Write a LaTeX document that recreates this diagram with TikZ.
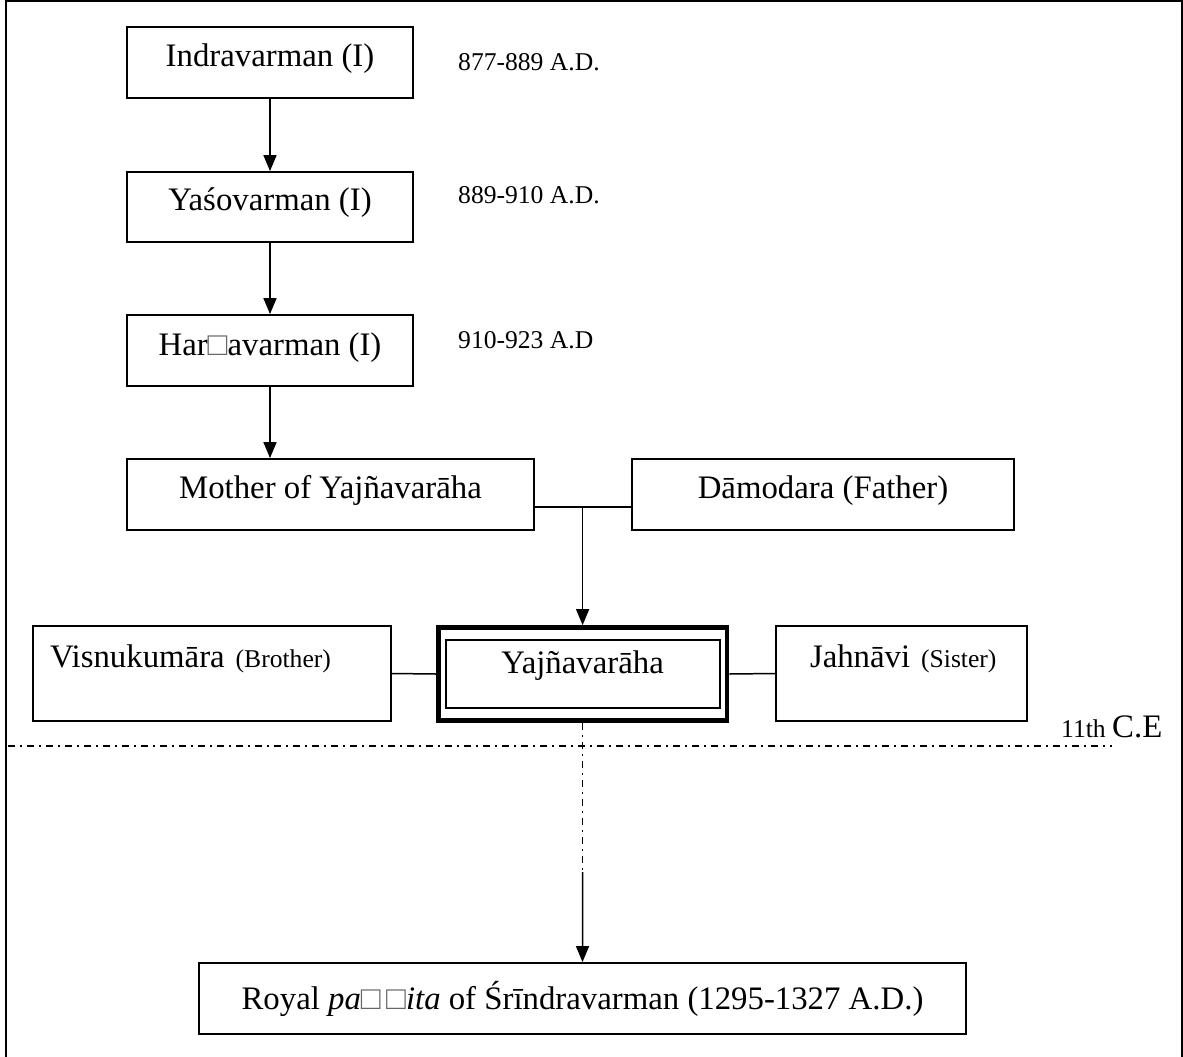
\documentclass[tikz,border=0pt]{standalone}
\usepackage{fontspec}
\setmainfont{Liberation Serif}
\usetikzlibrary{arrows.meta}
\newcommand\szA{\fontsize{32.8}{38}\selectfont}
\newcommand\szB{\fontsize{25.6}{30}\selectfont}
\newcommand\missingglyph{{\color{black!60}□}}
\begin{document}
\begin{tikzpicture}[x=1pt,y=-1pt,
  box/.style={draw, line width=1.8pt, inner xsep=0pt, inner ysep=0pt, font=\szA, text height=22pt},
  arr/.style={line width=1.5pt, -{Triangle[length=16pt,width=13pt]}},
  link/.style={line width=1.5pt},
  dashdot/.style={line width=1.4pt, dash pattern=on 7pt off 5pt on 2pt off 5pt},
  date/.style={font=\szB, anchor=base west, inner sep=0pt}]
\useasboundingbox (0,0) rectangle (1183,1057);
% frame
\draw[line width=2pt] (5.5,1057) -- (5.5,1.5) -- (1181.5,1.5) -- (1181.5,1057);
% kings
\node[box, minimum width=286pt, minimum height=71pt, text depth=13.6pt] (ind) at (270,62.5) {Indravarman (I)};
\node[box, minimum width=286pt, minimum height=70pt, text depth=16pt] (yas) at (270,207) {Yaśovarman (I)};
\node[box, minimum width=286pt, minimum height=71pt, text depth=13pt] (har) at (270,350.5) {Har\missingglyph avarman (I)};
\node[date] (d1) at (458,70.7) {877-889 A.D.};
\node[date] (d2) at (458,203) {889-910 A.D.};
\node[date] (d3) at (458,348) {910-923 A.D};
% parents
\node[box, minimum width=407pt, minimum height=71pt, text depth=14pt] (mot) at (330.5,494.5) {Mother of Yajñavarāha};
\node[box, minimum width=382pt, minimum height=71pt, text depth=14pt] (fat) at (823,494.5) {Dāmodara (Father)};
% Yajnavaraha
\node[box, line width=4.7pt, minimum width=288.7pt, minimum height=93pt, text depth=24pt] (yaj) at (582.6,674) {Yajñavarāha};
\draw[line width=1.8pt] ([shift={(-136.6,-34)}]yaj.center) rectangle ([shift={(137.4,34)}]yaj.center);
% siblings
\node[box, minimum width=358pt, minimum height=95pt, text depth=35pt, text width=324pt, align=left] (vis) at (212,673.5) {\mbox{Visnukumāra {\szB(Brother)}}};
\node[box, minimum width=251pt, minimum height=95pt, text depth=35pt, text width=183pt, align=left] (jah) at (901.5,673.5) {\mbox{Jahnāvi {\szB(Sister)}}};
% royal
\node[box, minimum width=767pt, minimum height=71pt, text depth=1pt] (roy) at (582.5,998.5) {Royal \textit{pa\missingglyph\,\missingglyph ita} of Śrīndravarman (1295-1327 A.D.)};
% connectors
\draw[arr] (ind.south) -- (yas.north);
\draw[arr] (yas.south) -- (har.north);
\draw[arr] (har.south) -- (ind.south |- mot.north);
\coordinate (jn) at (582.6,507);
\draw[link] (mot.east |- jn) -- (fat.west |- jn);
\draw[arr] (jn) -- (yaj.north);
\draw[link] (vis.east) -- (yaj.west);
\draw[link] (yaj.east) -- (jah.west);
% century line
\coordinate (cl) at (8,746);
\coordinate (cr) at (1112,746);
\draw[dashdot] (cl) -- (cr);
\node[anchor=base west, inner sep=0pt] (ce) at (1061,737) {{\szB 11th }{\szA C.E}};
\coordinate (mid) at (582.6,872);
\draw[dashdot] (yaj.south) -- (mid);
\draw[arr] (mid) -- (roy.north);
\end{tikzpicture}
\end{document}
